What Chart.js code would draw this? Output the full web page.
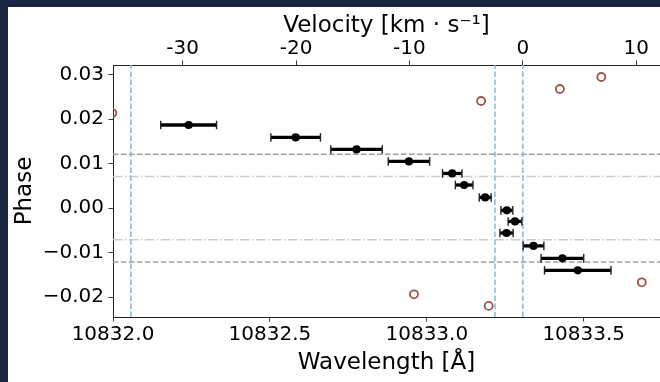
<!DOCTYPE html>
<html>
<head>
<meta charset="utf-8">
<script src="https://cdn.jsdelivr.net/npm/chart.js@4.4.1/dist/chart.umd.min.js"></script>
<style>
  html, body { margin: 0; padding: 0; background: #1b2642; overflow: hidden; }
  #frame { position: absolute; left: 8px; top: 7px; width: 652px; height: 375px; background: #fff; }
</style>
</head>
<body>
<div id="frame"><canvas id="chart" width="652" height="375"></canvas></div>
<script>
// in-transit absorption centroids: wavelength [A], half-width of error bar, orbital phase
const wavelength = [10832.241, 10832.582, 10832.776, 10832.943, 10833.081, 10833.119, 10833.186,
                    10833.255, 10833.281, 10833.254, 10833.340, 10833.432, 10833.481];
const wavelengthErr = [0.089, 0.079, 0.082, 0.066, 0.031, 0.028, 0.019,
                       0.019, 0.022, 0.021, 0.033, 0.068, 0.106];
const phase = [0.0187, 0.0159, 0.0132, 0.0105, 0.0078, 0.0052, 0.0024,
               -0.0005, -0.0030, -0.0056, -0.0085, -0.0113, -0.0140];

// out-of-transit exposures (open circles)
const outWavelength = [10831.998, 10833.173, 10833.424, 10833.556, 10832.959, 10833.197, 10833.685];
const outPhase = [0.0214, 0.0241, 0.0268, 0.0295, -0.0194, -0.0220, -0.0167];

// He I triplet centres (vacuum) and transit contacts
const lineCentres = [10832.057, 10833.217, 10833.306];
const outerContacts = [0.0121, -0.0121];
const innerContacts = [0.0071, -0.0071];

const wavelengthTicks = [10832.0, 10832.5, 10833.0, 10833.5];
const velocityTicks = [-30, -20, -10, 0, 10];
const phaseTicks = [-0.02, -0.01, 0.00, 0.01, 0.02, 0.03];

const xMin = 10832.0, xMax = 10833.743;
const yMin = -0.0245, yMax = 0.0322;
const restWavelength = 10833.306;
const lightSpeed = 299792.458;
const toVelocity = w => (w - restWavelength) / restWavelength * lightSpeed;

const tickFont = { family: 'DejaVu Sans', size: 20, lineHeight: 1 };
const titleFont = { family: 'DejaVu Sans', size: 23, lineHeight: 1 };

function axisLook(extra) {
    return Object.assign({
        grid: { drawOnChartArea: false, drawTicks: true, tickLength: 4.5, tickWidth: 1, tickColor: '#333' },
        border: { display: true, color: '#222', width: 1 }
    }, extra);
}

const datasets = [];

// filled points first so they sit on top
datasets.push({
    data: wavelength.map((w, i) => ({ x: w, y: phase[i] })),
    pointRadius: 4.1,
    pointBackgroundColor: '#000',
    pointBorderWidth: 0
});

// horizontal error bars with caps
wavelength.forEach((w, i) => {
    datasets.push({
        data: [{ x: w - wavelengthErr[i], y: phase[i] }, { x: w + wavelengthErr[i], y: phase[i] }],
        showLine: true,
        borderColor: '#000',
        borderWidth: 3.3,
        pointStyle: 'line',
        rotation: 90,
        pointRadius: 4.3,
        pointBorderWidth: 1.4,
        pointBorderColor: '#222'
    });
});

datasets.push({
    data: outWavelength.map((w, i) => ({ x: w, y: outPhase[i] })),
    pointRadius: 4,
    pointBorderWidth: 1.8,
    pointBorderColor: '#9c5648',
    pointBackgroundColor: 'rgba(0,0,0,0)',
    clip: 0
});

lineCentres.forEach(w => {
    datasets.push({
        data: [{ x: w, y: yMin }, { x: w, y: yMax }],
        showLine: true, pointRadius: 0,
        borderColor: '#8fbbd9', borderWidth: 1.6, borderDash: [5.5, 2.5]
    });
});

outerContacts.forEach(p => {
    datasets.push({
        data: [{ x: xMin, y: p }, { x: xMax, y: p }],
        showLine: true, pointRadius: 0,
        borderColor: '#9e9e9e', borderWidth: 1.5, borderDash: [5.5, 2.5]
    });
});

innerContacts.forEach(p => {
    datasets.push({
        data: [{ x: xMin, y: p }, { x: xMax, y: p }],
        showLine: true, pointRadius: 0,
        borderColor: '#cccccc', borderWidth: 1.5, borderDash: [9.6, 2.4, 1.5, 2.4]
    });
});

new Chart(document.getElementById('chart'), {
    type: 'scatter',
    data: { datasets: datasets },
    options: {
        responsive: false,
        animation: false,
        devicePixelRatio: 1,
        layout: { padding: 0, autoPadding: false },
        plugins: { legend: { display: false }, tooltip: { enabled: false } },
        scales: {
            x: axisLook({
                type: 'linear', position: 'bottom', min: xMin, max: xMax,
                afterBuildTicks: s => { s.ticks = wavelengthTicks.map(v => ({ value: v })); },
                afterFit: s => { s.height = 65; },
                ticks: { font: tickFont, color: '#000', padding: 3.5, maxRotation: 0, autoSkip: false,
                         callback: v => v.toFixed(1) },
                title: { display: true, text: 'Wavelength [Å]', font: titleFont, color: '#000',
                         padding: { top: 0, bottom: 7.5 } }
            }),
            xv: axisLook({
                type: 'linear', axis: 'x', position: 'top', min: toVelocity(xMin), max: toVelocity(xMax),
                afterBuildTicks: s => { s.ticks = velocityTicks.map(v => ({ value: v })); },
                afterFit: s => { s.height = 58; },
                ticks: { font: tickFont, color: '#000', padding: 2, maxRotation: 0, autoSkip: false,
                         callback: v => String(v) },
                title: { display: true, text: 'Velocity [km \u00b7 s\u207b\u00b9]', font: titleFont, color: '#000',
                         padding: { top: 8, bottom: 0 } }
            }),
            y: axisLook({
                type: 'linear', position: 'left', min: yMin, max: yMax,
                afterBuildTicks: s => { s.ticks = phaseTicks.map(v => ({ value: v })); },
                afterFit: s => { s.width = 105; },
                ticks: { font: tickFont, color: '#000', padding: 4.5, autoSkip: false,
                         callback: v => (v < -1e-9 ? '\u2212' : '') + Math.abs(v).toFixed(2) },
                title: { display: true, text: 'Phase', font: titleFont, color: '#000',
                         padding: { top: 5.5, bottom: 0 } }
            })
        }
    }
});
</script>
</body>
</html>
